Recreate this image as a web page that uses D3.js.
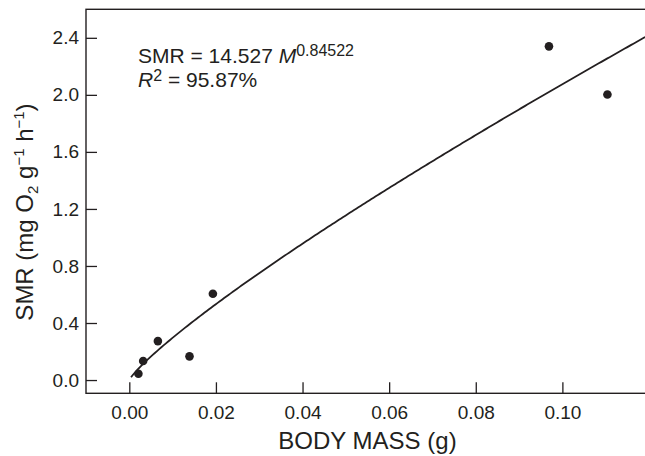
<!DOCTYPE html>
<html>
<head>
<meta charset="utf-8">
<script src="https://cdn.jsdelivr.net/npm/d3@7"></script>
<style>
	body { margin: 0; background: #fff; }
	text { font-family: 'Liberation Sans', Arial, sans-serif; fill: #231f20; }
	.tick line { stroke: #231f20; stroke-width: 1.3; }
	.tick text { font-size: 19px; }
	.axis-label { font-size: 24px; }
	.eq { font-size: 21px; }
</style>
</head>
<body>
<div id="chart"></div>
<script>
let width = 645
let height = 456

// data
let bodyMass = [0.0021, 0.0032, 0.0066, 0.0139, 0.0193, 0.0969, 0.1104]
let smr = [0.044, 0.133, 0.273, 0.166, 0.605, 2.34, 2.003]

// fitted power law, as printed on the chart
let fitA = 14.527
let fitB = 0.84522
let fitR2 = '95.87%'
let fitStart = 0.0004

let xTicks = [0, 0.02, 0.04, 0.06, 0.08, 0.10]
let yTicks = [0, 0.4, 0.8, 1.2, 1.6, 2.0, 2.4]

let frame = {
	'left': 86,
	'top': 9.3,
	'right': 649,
	'bottom': 393.3,
}

let xScale = d3.scaleLinear()
	.domain([-0.01, 0.12])
	.range([frame.left, frame.right])

let yScale = d3.scaleLinear()
	.domain([-0.093, 2.6])
	.range([frame.bottom, frame.top])

let svg = d3.select('#chart').append('svg')
	.attr('width', width)
	.attr('height', height)

let xAxis = d3.axisBottom(xScale)
	.tickValues(xTicks)
	.tickFormat(d3.format('.2f'))
	.tickSize(-11)
	.tickPadding(11)

let yAxis = d3.axisLeft(yScale)
	.tickValues(yTicks)
	.tickFormat(d3.format('.1f'))
	.tickSize(-11)
	.tickPadding(7)

svg.append('g')
	.attr('transform', `translate(0,${frame.bottom})`)
	.call(xAxis)
	.call(g => g.select('.domain').remove())
	.selectAll('text').attr('dy', '0.75em')

svg.append('g')
	.attr('transform', `translate(${frame.left},0)`)
	.call(yAxis)
	.call(g => g.select('.domain').remove())

svg.append('rect')
	.attr('x', frame.left)
	.attr('y', frame.top)
	.attr('width', frame.right - frame.left)
	.attr('height', frame.bottom - frame.top)
	.attr('fill', 'none')
	.attr('stroke', '#231f20')
	.attr('stroke-width', 1.4)

// fit curve
let fitX = d3.range(fitStart, 0.12, 0.0005).concat([0.12])
let line = d3.line()
	.x(d => xScale(d))
	.y(d => yScale(fitA * Math.pow(d, fitB)))

svg.append('path')
	.datum(fitX)
	.attr('d', line)
	.attr('fill', 'none')
	.attr('stroke', '#231f20')
	.attr('stroke-width', 1.8)

svg.append('g').selectAll('circle')
	.data(bodyMass)
	.enter().append('circle')
	.attr('cx', d => xScale(d))
	.attr('cy', (d, i) => yScale(smr[i]))
	.attr('r', 4.3)
	.attr('fill', '#231f20')

// equation
let eq1 = svg.append('text')
	.attr('class', 'eq')
	.attr('x', 138)
	.attr('y', 63)
eq1.append('tspan').text('SMR = ' + fitA + ' ')
eq1.append('tspan').attr('font-style', 'italic').text('M')
eq1.append('tspan').attr('font-size', '16px').attr('dy', -7).text(fitB)

let eq2 = svg.append('text')
	.attr('class', 'eq')
	.attr('x', 138)
	.attr('y', 87)
eq2.append('tspan').attr('font-style', 'italic').text('R')
eq2.append('tspan').attr('font-size', '16px').attr('dy', -6).text('2')
eq2.append('tspan').attr('dy', 6).text(' = ' + fitR2)

// axis labels
svg.append('text')
	.attr('class', 'axis-label')
	.attr('x', (frame.left + frame.right) / 2)
	.attr('y', 448.5)
	.attr('text-anchor', 'middle')
	.text('BODY MASS (g)')

let yl = svg.append('text')
	.attr('class', 'axis-label')
	.attr('font-size', '23px')
	.attr('transform', 'translate(33,212) rotate(-90)')
	.attr('text-anchor', 'middle')
yl.append('tspan').text('SMR (mg O')
yl.append('tspan').attr('font-size', '15px').attr('dy', 5).text('2')
yl.append('tspan').attr('dy', -5).text(' g')
yl.append('tspan').attr('font-size', '15px').attr('dy', -9).text('\u22121')
yl.append('tspan').attr('dy', 9).text(' h')
yl.append('tspan').attr('font-size', '15px').attr('dy', -9).text('\u22121')
yl.append('tspan').attr('dy', 9).text(')')
</script>
</body>
</html>
